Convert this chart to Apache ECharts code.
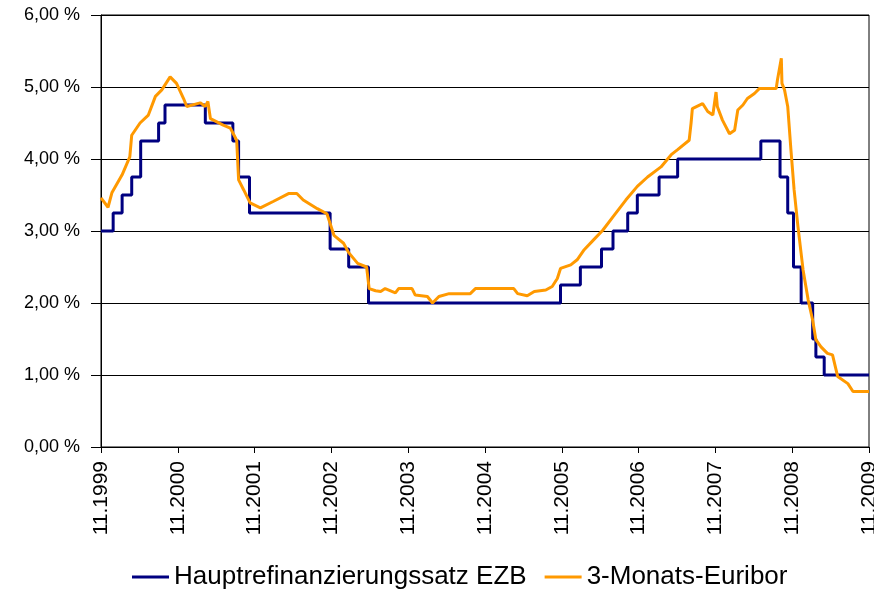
<!DOCTYPE html>
<html>
<head>
<meta charset="utf-8">
<script src="https://cdn.jsdelivr.net/npm/echarts@6/dist/echarts.min.js"></script>
<style>
  html, body { margin: 0; padding: 0; background: #fff; }
  #chart { width: 874px; height: 595px; }
</style>
</head>
<body>
<div id="chart"></div>
<script>
// months counted from 11.1999
const ecbMonths = [0, 1.9, 3.3, 4.8, 6.2, 9.0, 10.0, 16.3, 20.6, 21.5, 23.2, 35.8, 38.7, 41.8,
    71.8, 74.9, 78.2, 80.0, 82.3, 83.8, 87.2, 90.1, 103.1, 106.1, 107.3, 108.2, 109.4,
    111.2, 111.7, 113.0, 120];
const ecbRates = [3.00, 3.25, 3.50, 3.75, 4.25, 4.50, 4.75, 4.50, 4.25, 3.75, 3.25, 2.75, 2.50, 2.00,
    2.25, 2.50, 2.75, 3.00, 3.25, 3.50, 3.75, 4.00, 4.25, 3.75, 3.25, 2.50, 2.00,
    1.50, 1.25, 1.00, 1.00];

const euriborMonths = [0, 1.1, 1.7, 3.3, 4.5, 4.8, 6.1, 7.4, 8.5, 9.5, 10.8, 11.8, 12.9, 13.4,
    15.5, 16.3, 16.7, 17.1, 19.1, 20.2, 21.2, 21.5, 22.3, 22.8, 23.3, 24.9, 26.9, 29.3,
    30.6, 31.6, 33.8, 35.3, 36.4, 37.9, 38.7, 40.1, 41.5, 41.9, 42.9, 43.7, 44.4, 46.0,
    46.5, 48.6, 49.1, 51.0, 51.8, 52.8, 54.4, 57.7, 58.5, 64.5, 65.1, 66.6, 67.7, 69.5,
    70.5, 71.3, 71.8, 73.4, 74.4, 75.5, 77.0, 78.4, 80.2, 82.0, 83.8, 85.4, 87.5, 89.1,
    90.1, 91.9, 92.2, 92.4, 94.0, 94.8, 95.6, 96.1, 96.3, 97.1, 98.2, 99.0, 99.5, 100.3,
    101.0, 102.1, 102.9, 105.5, 105.7, 106.3, 106.4, 106.8, 107.3, 107.8, 108.3, 108.9,
    109.7, 110.5, 111.2, 111.7, 112.5, 113.5, 114.3, 115.1, 116.7, 117.5, 120];
const euriborRates = [3.46, 3.33, 3.53, 3.78, 4.03, 4.33, 4.50, 4.61, 4.87, 4.96, 5.14, 5.05, 4.84, 4.73,
    4.78, 4.73, 4.80, 4.56, 4.47, 4.43, 4.26, 3.71, 3.57, 3.48, 3.39, 3.32, 3.41, 3.52,
    3.52, 3.43, 3.31, 3.24, 2.94, 2.83, 2.70, 2.55, 2.50, 2.20, 2.17, 2.16, 2.20, 2.14,
    2.20, 2.20, 2.11, 2.09, 2.00, 2.09, 2.13, 2.13, 2.20, 2.20, 2.13, 2.10, 2.16, 2.18,
    2.23, 2.34, 2.48, 2.53, 2.60, 2.74, 2.88, 3.01, 3.22, 3.43, 3.62, 3.75, 3.89, 4.06,
    4.13, 4.26, 4.50, 4.70, 4.77, 4.66, 4.61, 4.93, 4.73, 4.54, 4.35, 4.40, 4.68, 4.75,
    4.84, 4.91, 4.98, 4.98, 5.10, 5.40, 5.05, 4.96, 4.73, 4.13, 3.57, 3.06,
    2.46, 2.04, 1.76, 1.49, 1.39, 1.30, 1.28, 0.98, 0.88, 0.77, 0.77];

const seriesNames = ['Hauptrefinanzierungssatz EZB', '3-Monats-Euribor'];
const startYear = 1999;

function pairs(xs, ys) {
    return xs.map((x, i) => [x, ys[i]]);
}

let chart = echarts.init(document.getElementById('chart'));
chart.setOption({
    animation: false,
    backgroundColor: '#fff',
    grid: {
        left: 101, right: 5, top: 15, bottom: 148,
        outerBoundsMode: 'none',
        containLabel: false,
        show: true, borderColor: '#000', borderWidth: 1
    },
    legend: {
        bottom: 0,
        left: 127,
        icon: 'rect',
        itemWidth: 37,
        itemHeight: 3,
        itemGap: 18,
        textStyle: { fontFamily: 'Liberation Sans', fontSize: 26, color: '#000' },
        data: seriesNames
    },
    xAxis: {
        type: 'value',
        min: 0, max: 120, interval: 12,
        axisLine: { lineStyle: { color: '#000', width: 1 } },
        axisTick: { length: 6, lineStyle: { color: '#000' } },
        splitLine: { show: false },
        axisLabel: {
            rotate: 90,
            margin: 14,
            fontFamily: 'Liberation Sans',
            fontSize: 21,
            color: '#000',
            formatter: v => '11.' + (startYear + Math.round(v / 12))
        }
    },
    yAxis: {
        type: 'value',
        min: 0, max: 6, interval: 1,
        axisLine: { show: true, lineStyle: { color: '#000', width: 1 } },
        axisTick: { show: true, length: 10, lineStyle: { color: '#000' } },
        splitLine: { lineStyle: { color: '#000', width: 1 } },
        axisLabel: {
            margin: 21,
            fontFamily: 'Liberation Sans Narrow, Liberation Sans',
            fontSize: 18,
            color: '#000',
            formatter: v => v.toFixed(2).replace('.', ',') + ' %'
        }
    },
    series: [
        {
            name: seriesNames[0],
            type: 'line',
            step: 'end',
            symbol: 'none',
            color: '#000080',
            lineStyle: { width: 3 },
            data: pairs(ecbMonths, ecbRates)
        },
        {
            name: seriesNames[1],
            type: 'line',
            symbol: 'none',
            color: '#FF9900',
            lineStyle: { width: 3 },
            data: pairs(euriborMonths, euriborRates)
        }
    ]
});
</script>
</body>
</html>
